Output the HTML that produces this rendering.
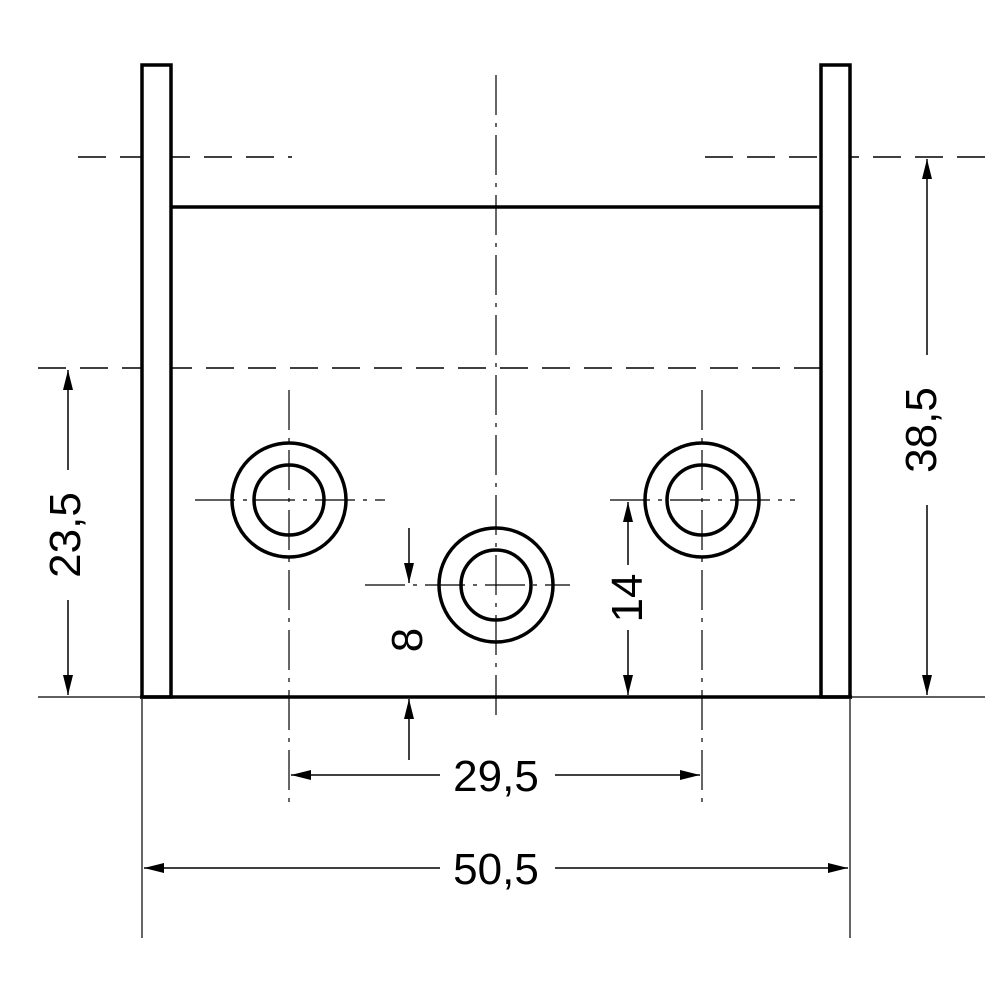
<!DOCTYPE html>
<html><head><meta charset="utf-8"><style>html,body{margin:0;padding:0;background:#fff}svg{display:block}</style></head>
<body>
<svg width="1000" height="1000" viewBox="0 0 1000 1000" xmlns="http://www.w3.org/2000/svg">
<defs>
<marker id="a" viewBox="0 0 20 10" refX="20" refY="5" markerWidth="20" markerHeight="10" markerUnits="userSpaceOnUse" orient="auto-start-reverse">
<path d="M0,0 L20,5 L0,10 z" fill="#000"/></marker>
</defs>
<g fill="none" stroke="#000">
<g stroke-width="1.5" stroke-dasharray="28,14">
<line x1="78" y1="157" x2="292" y2="157"/>
<line x1="705" y1="157" x2="985" y2="157"/>
<line x1="38" y1="368" x2="838" y2="368"/>
</g>
<g stroke-width="1.2" stroke-dasharray="40,8,4,8">
<line x1="496" y1="75" x2="496" y2="715"/>
<line x1="289" y1="390" x2="289" y2="805"/>
<line x1="702" y1="390" x2="702" y2="805"/>
<line x1="195" y1="500" x2="385" y2="500"/>
<line x1="610" y1="500" x2="795" y2="500"/>
<line x1="365" y1="585" x2="570" y2="585"/>
</g>
<g stroke-width="3.5">
<rect x="142" y="65" width="29" height="632" fill="#fff"/>
<rect x="821" y="65" width="29" height="632" fill="#fff"/>
<line x1="171" y1="207" x2="821" y2="207"/>
<line x1="140" y1="697" x2="852" y2="697"/>
<circle cx="289" cy="500" r="57"/><circle cx="289" cy="500" r="35"/>
<circle cx="702" cy="500" r="57"/><circle cx="702" cy="500" r="35"/>
<circle cx="496" cy="585" r="57"/><circle cx="496" cy="585" r="35"/>
</g>
<g stroke-width="1.2">
<line x1="38" y1="697" x2="140" y2="697"/>
<line x1="852" y1="697" x2="985" y2="697"/>
<line x1="142" y1="699" x2="142" y2="938"/>
<line x1="850" y1="699" x2="850" y2="938"/>
</g>
<g stroke-width="1.5">
<line x1="927" y1="159" x2="927" y2="355" marker-start="url(#a)"/>
<line x1="927" y1="505" x2="927" y2="695" marker-end="url(#a)"/>
<line x1="68" y1="370" x2="68" y2="470" marker-start="url(#a)"/>
<line x1="68" y1="600" x2="68" y2="695" marker-end="url(#a)"/>
<line x1="628" y1="502" x2="628" y2="565" marker-start="url(#a)"/>
<line x1="628" y1="630" x2="628" y2="695" marker-end="url(#a)"/>
<line x1="409" y1="528" x2="409" y2="583" marker-end="url(#a)"/>
<line x1="409" y1="760" x2="409" y2="699" marker-end="url(#a)"/>
<line x1="291" y1="775" x2="440" y2="775" marker-start="url(#a)"/>
<line x1="555" y1="775" x2="700" y2="775" marker-end="url(#a)"/>
<line x1="144" y1="868" x2="440" y2="868" marker-start="url(#a)"/>
<line x1="555" y1="868" x2="848" y2="868" marker-end="url(#a)"/>
</g>
</g>
<g font-family="Liberation Sans, sans-serif" font-size="44" fill="#000" text-anchor="middle">
<text x="496" y="791">29,5</text>
<text x="496" y="884">50,5</text>
<text transform="translate(936,430) rotate(-90)">38,5</text>
<text transform="translate(80,535) rotate(-90)">23,5</text>
<text transform="translate(642,598) rotate(-90)">14</text>
<text transform="translate(422,640) rotate(-90)">8</text>
</g>
</svg>
</body></html>
